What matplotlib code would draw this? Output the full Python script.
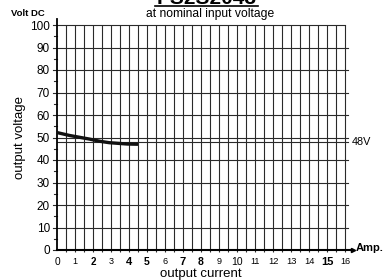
import matplotlib
matplotlib.use("Agg")
import matplotlib.pyplot as plt
from matplotlib.lines import Line2D

# Data
current = [0.0, 0.7, 1.8, 2.4, 2.9, 3.9, 4.5]
voltage = [52.2, 50.9, 49.3, 48.3, 47.7, 47.1, 47.0]
nominal_v = 48
x_ticks = list(range(0, 17))
y_ticks = list(range(0, 101, 10))
# style of each x tick label (size, weight) mimicking the reference
x_label_style = {0: (7.3, 'normal'), 1: (6.5, 'normal'), 2: (7, 'bold'), 3: (6.5, 'normal'),
                 4: (8, 'bold'), 5: (7.5, 'bold'), 6: (6.5, 'normal'), 7: (8, 'bold'),
                 8: (7.5, 'bold'), 9: (6.5, 'normal'), 10: (7.5, 'normal'), 11: (6.5, 'normal'),
                 12: (6.7, 'normal'), 13: (6.7, 'normal'), 14: (6.7, 'normal'),
                 15: (8, 'bold'), 16: (6.5, 'normal')}

plt.rcParams['font.family'] = ['Liberation Sans', 'DejaVu Sans']
W, H = 390, 280
fig = plt.figure(figsize=(W / 100, H / 100), dpi=100)
ax = fig.add_axes([57 / W, 1 - 250 / H, 288 / W, 225 / H])
ax.set_xlim(0, 16)
ax.set_ylim(0, 100)
for s in ax.spines.values():
    s.set_visible(False)

gc = '#2a2a2a'
# vertical grid every 0.5 A (with small tick below axis)
for i in range(1, 33):
    ax.plot([i * 0.5, i * 0.5], [-0.9, 100], color=gc, lw=0.8, solid_capstyle='butt', clip_on=False)
# horizontal grid lines
for v in y_ticks[1:]:
    xe = 16 if v == 100 else 16.15
    ax.plot([-0.25, xe], [v, v], color=gc, lw=0.8, clip_on=False)
ax.plot([-0.25, 0], [0, 0], color=gc, lw=0.8, clip_on=False)
# minor y ticks
for v in range(5, 100, 10):
    ax.plot([-0.15, 0], [v, v], color=gc, lw=0.8, clip_on=False)
# nominal line
ax.plot([0, 16.15], [nominal_v, nominal_v], color=gc, lw=0.8, clip_on=False)
ax.text(16.4, nominal_v, '48V', fontsize=7.8, va='center', ha='left')
# axes
ax.plot([0, 0], [0, 102.5], color='black', lw=1.3, clip_on=False)
ax.plot([0, 16.45], [0, 0], color='black', lw=1.5, clip_on=False)
ax.plot([16.45], [0], marker='>', ms=3, color='black', clip_on=False)
ax.text(16.6, 0.8, 'Amp.', fontsize=8, fontweight='bold', va='center', ha='left')
# curve
ax.plot(current, voltage, color='#111111', lw=2.4, solid_capstyle='butt')

ax.set_xticks(x_ticks)
ax.set_yticks(y_ticks)
ax.tick_params(axis='both', length=0)
ax.tick_params(axis='y', pad=5, labelsize=8.5)
ax.tick_params(axis='x', pad=5)
ax.set_xticklabels([str(t) for t in x_ticks], va='top')
for t, lab in zip(x_ticks, ax.get_xticklabels()):
    sz, wt = x_label_style[t]
    lab.set_fontsize(sz)
    lab.set_fontweight(wt)

ax.set_xlabel('output current', fontsize=9.5, labelpad=1)
ax.set_ylabel('output voltage', fontsize=9.5, labelpad=3)

fig.text(28 / W, 1 - 13 / H, 'Volt DC', fontsize=6.8, fontweight='bold', ha='center', va='center')
fig.text(207 / W, 1 - 4 / H, 'PS2S2048', fontsize=15, fontweight='bold', ha='center', va='baseline')
fig.add_artist(Line2D([155 / W, 258 / W], [1 - 5.5 / H, 1 - 5.5 / H], color='black', lw=1.2))
fig.text(210 / W, 1 - 14 / H, 'at nominal input voltage', fontsize=8.7, ha='center', va='center')

fig.savefig('out.png', dpi=100)
